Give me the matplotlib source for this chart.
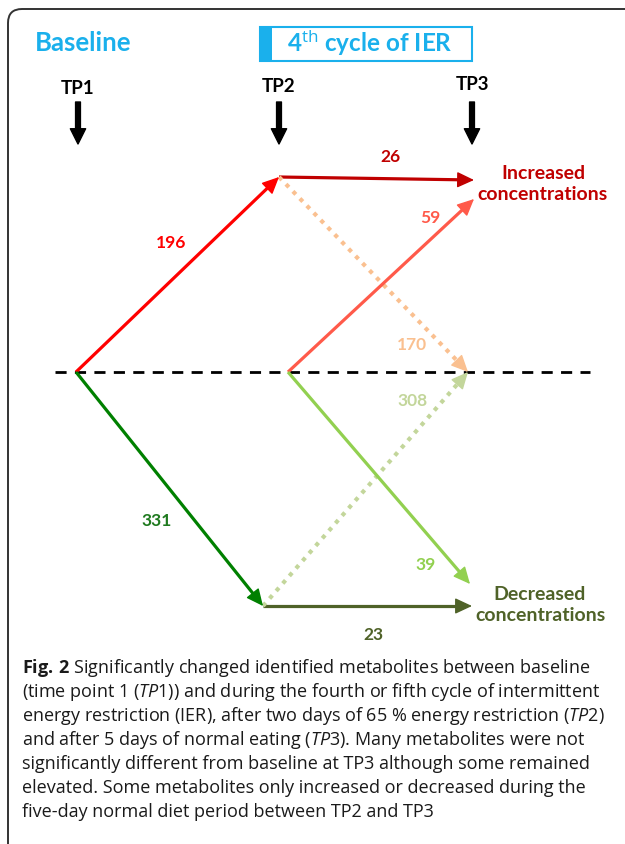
import matplotlib
matplotlib.use('Agg')
import matplotlib.pyplot as plt
from matplotlib.patches import FancyBboxPatch, Rectangle

plt.rcParams['font.family'] = ['Lato', 'DejaVu Sans']
plt.rcParams['mathtext.fontset'] = 'custom'
plt.rcParams['mathtext.rm'] = 'Open Sans'
plt.rcParams['mathtext.it'] = 'Open Sans:italic'
plt.rcParams['mathtext.bf'] = 'Open Sans:bold'

# データ: 各矢印の代謝物数
timepoints = ['TP1', 'TP2', 'TP3']
transitions = ['TP1->TP2 up', 'TP2 up->TP3 up', 'TP2 up->TP3 base', 'TP2 base->TP3 up',
               'TP1->TP2 down', 'TP2 down->TP3 down', 'TP2 down->TP3 base', 'TP2 base->TP3 down']
counts = [196, 26, 170, 59, 331, 23, 308, 39]

caption_lines = [
    r'$\mathbf{Fig.\,2}$ Significantly changed identified metabolites between baseline',
    r'(time point 1 ($\mathit{TP1}$)) and during the fourth or fifth cycle of intermittent',
    r'energy restriction (IER), after two days of 65 % energy restriction ($\mathit{TP2}$)',
    r'and after 5 days of normal eating ($\mathit{TP3}$). Many metabolites were not',
    'significantly different from baseline at TP3 although some remained',
    'elevated. Some metabolites only increased or decreased during the',
    'five-day normal diet period between TP2 and TP3',
]

# レイアウト(ピクセル座標)
tp_x = [78, 279, 472]
base_y = 373
node = {
    'TP1': (76, base_y),
    'TP2 up': (279, 178),
    'TP2 down': (263, 607),
    'TP2 base': (288, base_y),
    'TP3 up': (474, 181),
    'TP3 up2': (474, 200),
    'TP3 base': (468, base_y),
    'TP3 down': (472, 607),
    'TP3 down2': (470, 585),
}
arrow_path = [('TP1', 'TP2 up'), ('TP2 up', 'TP3 up'), ('TP2 up', 'TP3 base'), ('TP2 base', 'TP3 up2'),
              ('TP1', 'TP2 down'), ('TP2 down', 'TP3 down'), ('TP2 down', 'TP3 base'), ('TP2 base', 'TP3 down2')]
arrow_color = ['#ff0000', '#c00000', '#fac090', '#ff5a4a',
               '#008000', '#4f6228', '#c3d69b', '#92d050']
label_color = ['#ff0000', '#c00000', '#fac090', '#ff5a4a',
               '#1f7a1f', '#4f6228', '#c3d69b', '#92d050']
dotted = [False, False, True, False, False, False, True, False]
label_pos = [(171, 243), (390, 157), (412, 345), (430, 218),
             (157, 521), (373, 635), (413, 401), (426, 565)]

blue = '#1ab0ec'


def draw_arrow(ax, start, end, color, is_dotted):
    """線と矢じりを別々に描く(点線でも矢じりは塗りつぶし)"""
    (x0, y0), (x1, y1) = start, end
    dx, dy = x1 - x0, y1 - y0
    L = (dx ** 2 + dy ** 2) ** 0.5
    ux, uy = dx / L, dy / L
    head = 10
    ls = (0, (1, 1.4)) if is_dotted else '-'
    ax.plot([x0, x1 - ux * head], [y0, y1 - uy * head], color=color,
            lw=3 if is_dotted else 2.3, linestyle=ls, solid_capstyle='butt')
    ax.annotate('', xy=(x1, y1), xytext=(x1 - ux * (head + 2), y1 - uy * (head + 2)),
                arrowprops=dict(arrowstyle='-|>,head_length=0.75,head_width=0.35',
                                color=color, lw=1, shrinkA=0, shrinkB=0,
                                mutation_scale=14))


fig = plt.figure(figsize=(6.25, 8.45), dpi=100)
ax = fig.add_axes([0, 0, 1, 1])
ax.set_xlim(0, 625)
ax.set_ylim(845, 0)
ax.axis('off')

# 外枠
frame = FancyBboxPatch((8, 10), 700, 900, boxstyle='round,pad=0,rounding_size=14',
                       fc='white', ec='#333333', lw=1.4)
ax.add_patch(frame)

# 見出し
ax.text(35, 43, 'Baseline', color=blue, fontsize=18.5, fontweight='bold', va='center', ha='left')
ax.add_patch(Rectangle((260, 28), 212, 34, fc='white', ec=blue, lw=1.5))
ax.add_patch(Rectangle((260, 28), 12, 34, fc=blue, ec=blue, lw=0))
plt.rcParams['mathtext.rm'] = 'Lato:bold'
ax.text(370, 43, r'4$^{\mathrm{th}}$ cycle of IER', color=blue, fontsize=17.5,
        fontweight='bold', va='center', ha='center')

# 時点ラベルと下向き矢印
tp_label_y = [88, 86, 84]
for name, x, ty in zip(timepoints, tp_x, tp_label_y):
    ax.text(x, ty, name, fontsize=13.5, fontweight='bold', ha='center', va='center')
    ax.annotate('', xy=(x, 145), xytext=(x, 103),
                arrowprops=dict(width=3.5, headwidth=11, headlength=11,
                                color='black', shrink=0))

# 基準線
ax.plot([55, 590], [base_y, base_y], color='black', lw=2, linestyle=(0, (4, 3)))

# 矢印と数値
for (a, b), c, d, n, lp, lc in zip(arrow_path, arrow_color, dotted, counts, label_pos, label_color):
    draw_arrow(ax, node[a], node[b], c, d)
    ax.text(lp[0], lp[1], str(n), color=lc, fontsize=12.5, fontweight='bold',
            ha='center', va='center')

ax.text(543, 184, 'Increased\nconcentrations', color='#c00000', fontsize=14,
        fontweight='bold', ha='center', va='center', linespacing=1.3)
ax.text(540, 605, 'Decreased\nconcentrations', color='#4f6228', fontsize=14,
        fontweight='bold', ha='center', va='center', linespacing=1.3)

# 図の説明文
plt.rcParams['mathtext.rm'] = 'Open Sans'
for i, line in enumerate(caption_lines):
    ax.text(22, 668 + i * 24, line, fontsize=13, family='Open Sans', color='#1a1a1a',
            ha='left', va='center')

fig.savefig('out.png', dpi=100)
